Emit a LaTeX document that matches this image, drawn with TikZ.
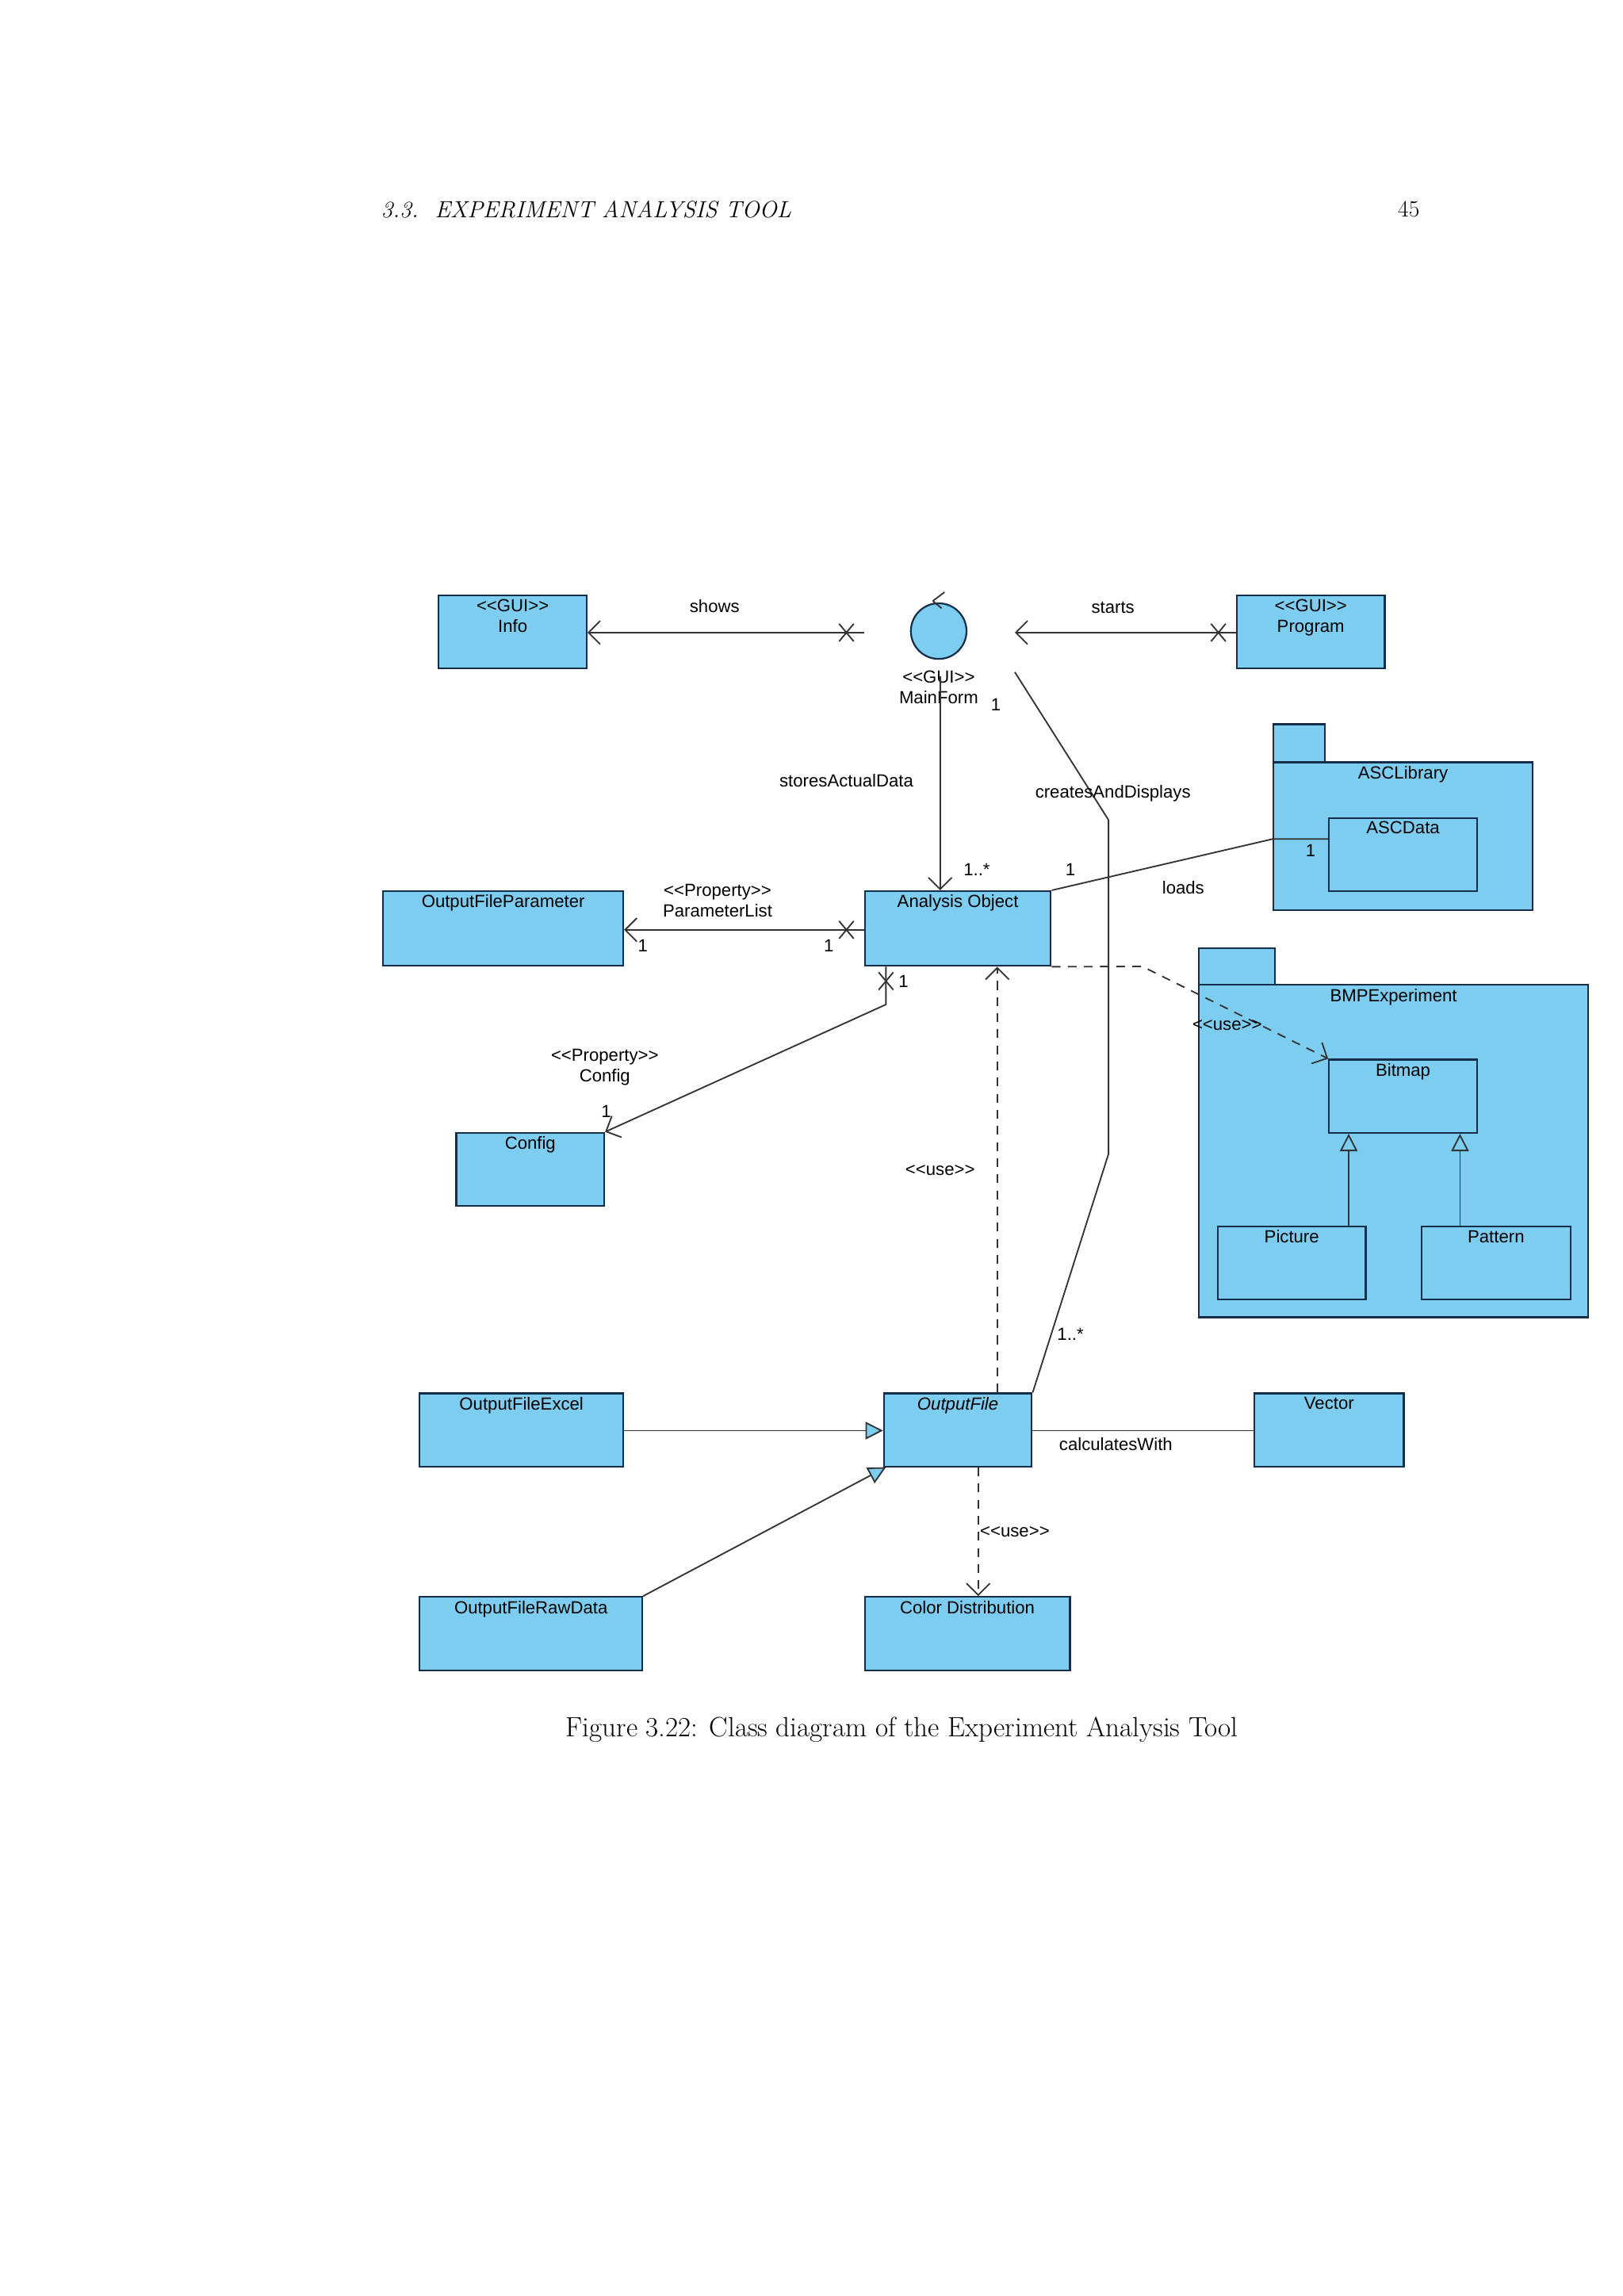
\documentclass[tikz,border=0pt]{standalone}
\usepackage{fontspec}
\setmainfont{Latin Modern Roman}
\newfontfamily\diag{Liberation Sans}
\usetikzlibrary{arrows.meta}
\definecolor{umlblue}{RGB}{125,205,240}
\definecolor{navy}{RGB}{20,45,75}
\begin{document}
\begin{tikzpicture}[x=1pt,y=-1pt,
  every node/.style={font=\diag\fontsize{12}{14}\selectfont, inner sep=1pt},
  box/.style={draw=navy, fill=umlblue, line width=1.2pt, anchor=north west, inner sep=0pt},
  lab/.style={anchor=north, yshift=-3pt, font=\diag\fontsize{12}{14}\selectfont, align=center, inner sep=0pt},
  ln/.style={draw=black!80, line width=1pt},
  open/.style={-{Straight Barb[length=8pt,width=16pt]}},
  gen/.style={-{Triangle[open,length=12pt,width=12pt,fill=umlblue]}},
  dsh/.style={dash pattern=on 6pt off 5pt}]
\useasboundingbox (0,0) rectangle (1108,1568);
% header and caption
\node[anchor=west, font=\fontsize{16}{18}\selectfont\itshape] (hd) at (259,143) {3.3.\ \ EXPERIMENT ANALYSIS TOOL};
\node[font=\fontsize{16}{18}\selectfont] (pg) at (962,143) {45};
\node[font=\fontsize{19}{22}\selectfont] (cap) at (616,1181) {Figure 3.22: Class diagram of the Experiment Analysis Tool};
% packages
\node[box, minimum width=35, minimum height=26] (asctab) at (869,494) {};
\node[box, minimum width=177, minimum height=101, label={[lab]north:ASCLibrary}] (asclib) at (869,520) {};
\node[box, minimum width=101, minimum height=50, label={[lab]north:ASCData}] (ascdata) at (907,558) {};
\node[box, minimum width=52, minimum height=25] (bmptab) at (818,647) {};
\node[box, minimum width=266, minimum height=227, label={[lab]north:BMPExperiment}] (bmp) at (818,672) {};
\node[box, minimum width=101, minimum height=50, label={[lab]north:Bitmap}] (bitmap) at (907,723) {};
\node[box, minimum width=101, minimum height=50, label={[lab]north:Picture}] (picture) at (831,837) {};
\node[box, minimum width=102, minimum height=50, label={[lab]north:Pattern}] (pattern) at (970,837) {};
% classes
\node[box, minimum width=101, minimum height=50, label={[lab]north:{<<GUI>>\\Info}}] (info) at (299,406) {};
\node[box, minimum width=101, minimum height=50, label={[lab]north:{<<GUI>>\\Program}}] (program) at (844,406) {};
\node[draw=navy, fill=umlblue, line width=1.2pt, circle, minimum size=38pt, inner sep=0pt] (mainform) at (641,431) {};
\node[align=center, anchor=north, inner sep=0pt] (mflab) at (641,458) {<<GUI>>\\MainForm};
\node[box, minimum width=127, minimum height=51, label={[lab]north:Analysis Object}] (ao) at (590,608) {};
\node[box, minimum width=164, minimum height=51, label={[lab]north:OutputFileParameter}] (ofp) at (261,608) {};
\node[box, minimum width=101, minimum height=50, label={[lab]north:Config}] (config) at (311,773) {};
\node[box, minimum width=101, minimum height=50, label={[lab,font=\diag\itshape\fontsize{12}{14}\selectfont]north:OutputFile}] (of) at (603,951) {};
\node[box, minimum width=139, minimum height=50, label={[lab]north:OutputFileExcel}] (ofe) at (286,951) {};
\node[box, minimum width=152, minimum height=50, label={[lab]north:OutputFileRawData}] (ofr) at (286,1090) {};
\node[box, minimum width=102, minimum height=50, label={[lab]north:Vector}] (vector) at (856,951) {};
\node[box, minimum width=140, minimum height=50, label={[lab]north:Color Distribution}] (cd) at (590,1090) {};
% small arrow mark on circle
\draw[ln] (mainform.north) ++(-4,-1) -- ++(8,-6) (mainform.north) ++(-4,-1) -- ++(6,5);
% coordinates
\coordinate (showsE) at (590,432);
\coordinate (startsE) at (693,432);
\coordinate (mfS) at (642,462);
\coordinate (cdA) at (693,459);
\coordinate (cdB) at (757,560);
\coordinate (cdC) at (757,788);
\coordinate (ldB) at (869,573);
\coordinate (ldC) at (907,573);
\coordinate (useA) at (780,660);
\coordinate (cfA) at (605,686);
% connectors
\draw[ln, open] (showsE) -- (info.east |- showsE);
\draw[ln, open] (program.west |- startsE) -- (startsE);
\draw[ln, open] (mfS) -- (mfS |- ao.north);
\draw[ln] (cdA) -- (cdB) -- (cdC) -- (of.north east);
\draw[ln] (ao.north east) -- (ldB) -- (ldC);
\draw[ln, open] (ao.west |- 0,635) -- (ofp.east |- 0,635);
\draw[ln, open] (ao.south -| cfA) -- (cfA) -- (config.north east);
\draw[ln, dsh, open] (ao.south east) -- (useA) -- (bitmap.north west);
\draw[ln, dsh, open] (of.north -| 681,0) -- (ao.south -| 681,0);
\draw[ln, gen] (ofe.east |- 0,977) -- (of.west |- 0,977);
\draw[ln, gen] (ofr.north east) -- (605,1002);
\draw[ln] (of.east |- 0,977) -- (vector.west |- 0,977);
\draw[ln, dsh, open] (of.south -| 668,0) -- (cd.north -| 668,0);
\draw[ln, gen] (picture.north -| 921,0) -- (bitmap.south -| 921,0);
\draw[ln, gen] (pattern.north -| 997,0) -- (bitmap.south -| 997,0);
% crosses
\foreach \p in {(578,432),(832,432),(578,635),(605,670)}
  \draw[ln] \p ++(-5,-6) -- ++(10,12) \p ++(5,-6) -- ++(-10,12);
% labels
\node (l1) at (488,414) {shows};
\node (l2) at (760,415) {starts};
\node (l3) at (578,533) {storesActualData};
\node (l4) at (760,542) {createsAndDisplays};
\node (l5) at (808,606) {loads};
\node (l6) at (680,481) {1};
\node (l7) at (667,594) {1..*};
\node (l8) at (731,594) {1};
\node (l9) at (895,581) {1};
\node (l10) at (731,911) {1..*};
\node[align=center] (l11) at (490,615) {<<Property>>\\ParameterList};
\node (l12) at (439,646) {1};
\node (l13) at (566,646) {1};
\node (l14) at (617,670) {1};
\node[align=center] (l15) at (413,729) {<<Property>>\\Config};
\node (l16) at (414,759) {1};
\node (l17) at (642,799) {<<use>>};
\node (l18) at (838,700) {<<use>>};
\node (l19) at (762,986) {calculatesWith};
\node (l20) at (693,1046) {<<use>>};
\end{tikzpicture}
\end{document}
